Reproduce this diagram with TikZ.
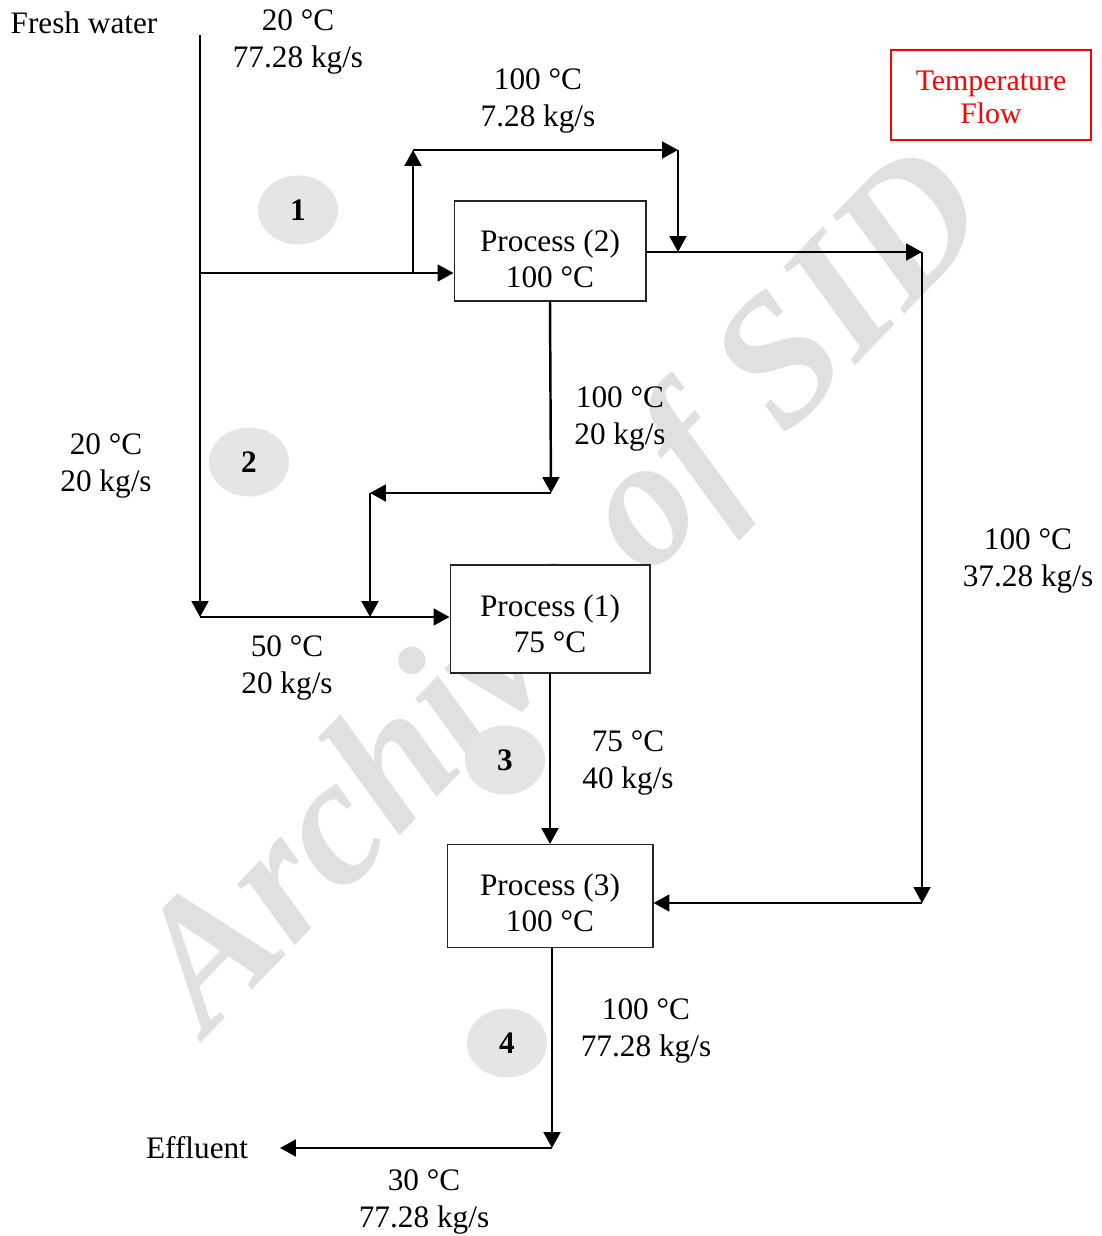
\documentclass[tikz,border=0pt]{standalone}
\usepackage{fontspec}
\setmainfont{Liberation Serif}
\usetikzlibrary{shapes.geometric, arrows.meta, positioning}
\tikzset{
  base/.style={font=\fontsize{17.8}{21.5}\selectfont, align=center},
  procbox/.style={rectangle, draw=black!85, fill=white, line width=0.6pt, inner sep=2pt},
  proctxt/.style={font=\fontsize{17.8}{20.2}\selectfont, align=center, inner sep=0pt},
  flowlbl/.style={base, inner sep=0pt},
  legbox/.style={rectangle, draw=red, line width=0.9pt,
                 minimum width=4cm, minimum height=1.8cm},
  legtxt/.style={font=\fontsize{17}{18.8}\selectfont, text=red, align=center, inner sep=0pt},
  zone/.style={ellipse, fill=black!10, minimum width=1.6cm, minimum height=1.38cm,
               inner sep=0pt, font=\fontsize{17.8}{21.5}\selectfont\bfseries},
  flow/.style={draw=black, line width=1.4pt, -{Triangle[length=9pt, width=9.5pt]}},
  wmark/.style={text=black!12, font=\fontsize{104}{110}\selectfont\bfseries\itshape, inner sep=0pt},
}

\begin{document}
\begin{tikzpicture}[x=0.02cm, y=-0.02cm]
\useasboundingbox (0,0) rectangle (1101,1236);

% watermark
\node[wmark, rotate=46] (wm) at (570,596) {Archive of SID};

% zone markers
\node[zone] (z1) at (298,210) {1};
\node[zone] (z2) at (249,462) {2};
\node[zone] (z3) at (505,760) {3};
\node[zone] (z4) at (507,1043) {4};

% processes
\node[procbox, minimum width=3.84cm, minimum height=2.0cm] (p2) at (550,251) {};
\node[procbox, minimum width=4.0cm, minimum height=2.16cm] (p1) at (550,619) {};
\node[procbox, minimum width=4.12cm, minimum height=2.06cm] (p3) at (550,896) {};
\node[proctxt] (p2txt) at (550,259) {Process (2)\\100 °C};
\node[proctxt] (p1txt) at (550,624) {Process (1)\\75 °C};
\node[proctxt] (p3txt) at (550,903) {Process (3)\\100 °C};

\node[legbox] (leg) at (991,95) {};
\node[legtxt] (legt) at (991,97) {Temperature\\Flow};

% stream labels
\node[flowlbl] (lblfw)  at (84,23)   {Fresh water};
\node[flowlbl] (lblin)  at (298,42)  {20 °C\\77.28 kg/s};
\node[flowlbl] (lblby)  at (538,101) {100 °C\\7.28 kg/s};
\node[flowlbl] (lblp2)  at (620,419) {100 °C\\20 kg/s};
\node[flowlbl] (lblfw2) at (106,466) {20 °C\\20 kg/s};
\node[flowlbl] (lblmix) at (287,668) {50 °C\\20 kg/s};
\node[flowlbl] (lblp1)  at (628,763) {75 °C\\40 kg/s};
\node[flowlbl] (lblrec) at (1028,561) {100 °C\\37.28 kg/s};
\node[flowlbl] (lblp3)  at (646,1031) {100 °C\\77.28 kg/s};
\node[flowlbl] (lblef)  at (424,1202) {30 °C\\77.28 kg/s};
\node[flowlbl] (lbleff) at (197,1148) {Effluent};

% junctions
\coordinate (fwtop)  at (200,35);
\coordinate (j2)     at (200,273);
\coordinate (j1)     at (200,617);
\coordinate (sp)     at (413,273);
\coordinate (bytop)  at (413,150);
\coordinate (byright) at (678,150);
\coordinate (bymerge) at (678,252);
\coordinate (p2out)  at (922,252);
\coordinate (p3in)   at (922,903);
\coordinate (p2down) at (551,493);
\coordinate (mixl)   at (370,493);
\coordinate (mix)    at (370,617);
\coordinate (efdown) at (552,1148);
\coordinate (efend)  at (280,1148);

% fresh water
\draw[flow] (fwtop) -- (j1);
\draw[flow] (j2) -- (j2 -| p2.west);
\draw[flow] (j1) -- (j1 -| p1.west);

% bypass round process 2
\draw[flow] (sp) -- (bytop);
\draw[flow] (bytop) -- (byright);
\draw[flow] (byright) -- (bymerge);

% process 2 outlets
\draw[flow] (p2.east |- p2out) -- (p2out);
\draw[flow] (p2out) -- (p3in);
\draw[flow] (p3in) -- (p3in -| p3.east);
\draw[flow] (p2.south) -- (p2down);
\draw[flow] (p2down) -- (mixl);
\draw[flow] (mixl) -- (mix);

% process 1 to 3, effluent
\draw[flow] (p1.south) -- (p3.north);
\draw[flow] (p3.south -| efdown) -- (efdown);
\draw[flow] (efdown) -- (efend);

\end{tikzpicture}
\end{document}
